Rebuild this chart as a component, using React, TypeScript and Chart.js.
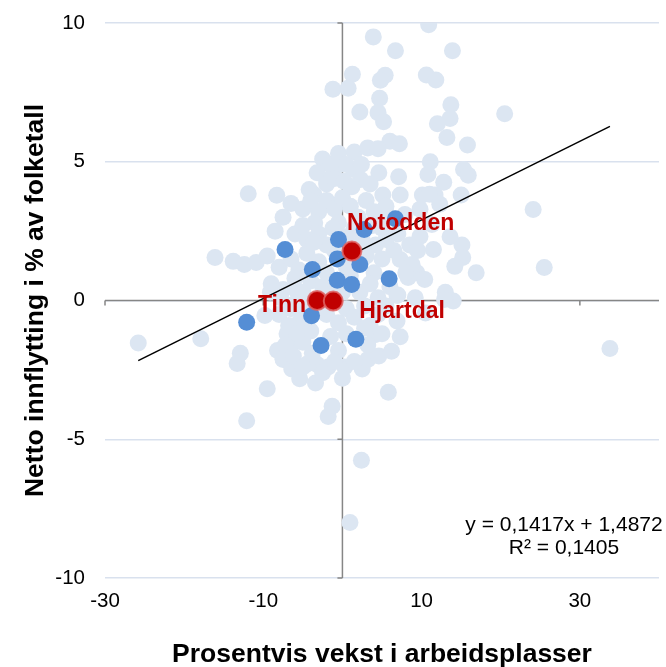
import React, { useEffect, useRef } from "react";
import { Chart, registerables } from "chart.js";

Chart.register(...registerables);

// ---- Data ----
const xTicks = [-30, -10, 10, 30];
const yTicks = [-10, -5, 0, 5, 10];
const slope = 0.1417;
const intercept = 1.4872;
const equationText = "y = 0,1417x + 1,4872";
const r2Text = "R² = 0,1405";
const xTitle = "Prosentvis vekst i arbeidsplasser";
const yTitle = "Netto innflytting i % av folketall";

// other municipalities (light)
const otherX = [
  10.9, 3.9, 6.7, 13.9, 1.26, -1.2, 0.72, 5.4, 4.8, 10.6, 11.8, 4.7, 2.2, 4.5, 5.2, 13.7, 13.6, 12.0, 13.2, 15.8,
  20.5, 6.0, 7.2, 1.5, 3.2, 4.5, -0.3, 1.4, -2.0, 2.3, 4.6, 7.1, 11.1, 10.8, 12.8, 15.3, 15.9, -11.9, -8.3, -3.6,
  5.1, 7.3, 10.1, 11.7, 15.0, -25.8, -17.9, -13.3, -9.5, -12.1, -1.3, -1.8, 5.8, 2.4, -9.8, -8.2, -7.5, -6.6, -7.5, -6.4,
  -5.4, -3.4, -3.2, -1.8, 0.3, 2.5, 3.2, 4.6, 6.2, 7.3, 4.1, -5.2, 9.2, 9.4, 13.0, 14.0, 10.5, 16.9, 6.9, 33.8,
  -16.1, -13.8, -12.4, -10.9, -9.1, 24.1, 25.5, 15.1, 15.2, 14.2, 12.9, 13.6, 11.5, 11.3, 9.8, 11.0, 12.3, 9.8, 7.9, 7.3,
  8.8, 10.4, 6.9, 8.3, 0.95, -12.9, -5.9,
  -2.5, -1.5, -0.5, 0.5, -3.2, -2, -1, 0.2, 1.2, 2.4, 3.5, -4.2,
  -6.5, -5, -4, -3, -2, -1, 0, 1, 2, 3, 4, 5.5, -7.5, -3.5, -0.5, 1.5, 3.8, 5, 6,
  -8.5, -6, -5, -4.5, -3, -2, -1.2, 0.5, 2.5, 4.2, 5.5, 7, 8.5,
  -9.5, -8, -6.5, -5.5, -4.5, -3, -2, -1, 0.5, 3, 4, 5, 6.5, 8, 9.5,
  -9, -7.5, -6, -5, -4, -2.5, -1.5, 0, 1, 2.2, 3.5, 4.5, 6, 7,
  -8, -6.5, -5.5, -4.5, -2, -0.5, 0.5, 1.5, 2.8, 3.5, 4.5, 5.5,
  -7, -5, -4, -1.5, -0.5, 0.5, 2.8, 3.2, 5,
  -4.5, -2.5, -1, 0, 1.5,
  -6.8, -5.8, -4.8, -7.2, -3.8, -6.2, -5.0, -4.0, -2.8, -7.8, -6.0, -3.6,
];
const otherY = [
  9.94, 9.5, 9.0, 9.0, 8.15, 7.61, 7.65, 8.12, 7.94, 8.13, 7.95, 7.29, 6.79, 6.77, 6.44, 7.05, 6.56, 6.37, 5.87, 5.6,
  6.73, 5.74, 5.65, 5.35, 5.5, 5.47, 4.9, 4.72, 4.36, 4.36, 4.6, 4.46, 5.0, 4.54, 4.26, 4.72, 4.51, 3.85, 3.79, 3.82,
  3.8, 3.8, 3.8, 3.8, 3.8, -1.53, -1.38, -2.27, -3.18, -4.33, -3.81, -4.18, -3.31, -5.76, -0.54, -1.8, -2.1, -1.71, -2.13, -2.47,
  -2.82, -2.97, -2.31, -2.4, -2.4, -2.47, -2.13, -2.0, -1.83, -1.31, -1.23, -0.93, 0.1, 1.0, 0.3, -0.02, -0.45, 1.0, -0.74, -1.73,
  1.55, 1.41, 1.3, 1.37, 0.3, 3.28, 1.19, 2.0, 1.55, 1.23, 0.04, 2.3, 1.84, 2.74, 2.31, 3.83, 3.47, 3.29, 3.1, 1.48,
  1.3, 0.76, 0.18, 0.83, -8.0, -1.9, 0.4,
  5.1, 4.9, 5.3, 4.9, 4.6, 4.2, 4.4, 4.3, 4.1, 4.9, 4.2, 4.0,
  3.5, 3.3, 3.6, 3.2, 3.6, 3.3, 3.7, 3.4, 3.0, 3.6, 3.2, 3.4, 3.0, 2.8, 2.8, 2.6, 2.7, 2.6, 3.0,
  2.5, 2.4, 2.7, 2.2, 2.4, 2.0, 2.6, 2.3, 2.2, 2.0, 2.2, 2.4, 2.0,
  1.6, 1.2, 1.5, 1.1, 1.7, 1.4, 1.0, 1.8, 1.2, 1.6, 1.0, 1.5, 1.8, 1.0, 1.8,
  0.6, 0.4, 0.8, 0.3, 0.7, 0.5, 0.2, 0.3, 0.9, 0.3, 0.6, 0.1, 0.5, 0.2,
  -0.5, -0.3, -0.8, -0.2, -0.5, -0.8, -0.3, -0.6, -0.2, -0.9, -0.5, -0.2,
  -1.2, -1.5, -1.1, -1.3, -1.8, -1.2, -1.0, -1.6, -1.2,
  -2.3, -2.6, -2.2, -2.8, -2.2,
  -0.9, -1.2, -0.6, -1.6, -1.9, -2.0, -2.4, -0.4, -0.3, 0.1, -0.1, 2.1,
];

// Telemark municipalities (blue)
const telemarkX = [-7.25, -0.5, -0.65, 2.2, -3.8, -0.65, 1.16, 5.9, 6.7, 2.75, -3.9, -12.1, -2.7, 1.7];
const telemarkY = [1.84, 2.2, 1.5, 1.3, 1.12, 0.73, 0.58, 0.78, 2.95, 2.56, -0.55, -0.78, -1.62, -1.4];

// highlighted municipalities (red)
const highlightNames = ["Notodden", "Tinn", "Hjartdal"];
const highlightX = [1.2, -3.2, -1.16];
const highlightY = [1.78, 0.0, -0.02];

const toPoints = (xs: number[], ys: number[]) => xs.map((x, i) => ({ x, y: ys[i] }));

const allX = [...otherX, ...telemarkX, ...highlightX];
const trendMinX = Math.min(...allX);
const trendMaxX = Math.max(...allX);

const FONT = "'Liberation Sans', Arial, sans-serif";

const overlayPlugin = {
  id: "overlay",
  beforeDatasetsDraw(chart: any) {
    const { ctx, scales } = chart;
    const xs = scales.x;
    const ys = scales.y;
    const x0 = xs.getPixelForValue(0);
    const y0 = ys.getPixelForValue(0);
    ctx.save();
    ctx.strokeStyle = "#868686";
    ctx.lineWidth = 1.5;
    ctx.beginPath();
    ctx.moveTo(xs.left, y0);
    ctx.lineTo(xs.right, y0);
    ctx.moveTo(x0, ys.top);
    ctx.lineTo(x0, ys.bottom);
    for (const v of xTicks) {
      const px = xs.getPixelForValue(v);
      ctx.moveTo(px, y0);
      ctx.lineTo(px, y0 + 5);
    }
    for (const v of yTicks) {
      const py = ys.getPixelForValue(v);
      ctx.moveTo(x0, py);
      ctx.lineTo(x0 - 5, py);
    }
    ctx.stroke();
    ctx.restore();
  },
  afterDatasetsDraw(chart: any) {
    const { ctx, scales, chartArea } = chart;
    const xs = scales.x;
    const ys = scales.y;
    ctx.save();
    ctx.fillStyle = "#C00000";
    ctx.font = `bold 23px ${FONT}`;
    ctx.textBaseline = "middle";
    const offs = [
      { dx: -5, dy: -27, align: "left" },
      { dx: -11, dy: 5, align: "right" },
      { dx: 26, dy: 11, align: "left" },
    ];
    highlightNames.forEach((name, i) => {
      const px = xs.getPixelForValue(highlightX[i]);
      const py = ys.getPixelForValue(highlightY[i]);
      ctx.textAlign = offs[i].align;
      ctx.fillText(name, px + offs[i].dx, py + offs[i].dy);
    });
    ctx.fillStyle = "#000000";
    ctx.font = `21px ${FONT}`;
    ctx.textAlign = "center";
    const cx = chartArea.right - 95;
    ctx.fillText(equationText, cx, chartArea.bottom - 53);
    ctx.fillText(r2Text, cx, chartArea.bottom - 30);
    ctx.restore();
  },
};

export default function App() {
  const ref = useRef<HTMLCanvasElement>(null);
  useEffect(() => {
    if (!ref.current) return;
    const chart = new Chart(ref.current, {
      type: "scatter",
      data: {
        datasets: [
          {
            label: "Highlight",
            data: toPoints(highlightX, highlightY),
            backgroundColor: "#C00000",
            borderColor: "rgba(222,100,100,0.85)",
            borderWidth: 2,
            pointRadius: 9.5,
            order: 0,
          },
          {
            type: "line",
            label: "Trend",
            data: [
              { x: trendMinX, y: slope * trendMinX + intercept },
              { x: trendMaxX, y: slope * trendMaxX + intercept },
            ],
            borderColor: "#000000",
            borderWidth: 1.5,
            pointRadius: 0,
            fill: false,
            order: 1,
          },
          {
            label: "Telemark",
            data: toPoints(telemarkX, telemarkY),
            backgroundColor: "#558ED5",
            borderWidth: 0,
            pointRadius: 8.5,
            order: 2,
          },
          {
            label: "Andre",
            data: toPoints(otherX, otherY),
            backgroundColor: "#DCE6F2",
            borderWidth: 0,
            pointRadius: 8.5,
            order: 3,
          },
        ],
      },
      options: {
        animation: false,
        responsive: false,
        layout: { autoPadding: false, padding: { top: 23, right: 7, left: 0, bottom: 0 } },
        plugins: { legend: { display: false }, tooltip: { enabled: false } },
        scales: {
          x: {
            type: "linear",
            min: -30,
            max: 40,
            afterBuildTicks: (s: any) => {
              s.ticks = xTicks.map((v) => ({ value: v }));
            },
            afterFit: (s: any) => {
              s.height = 89;
              s.paddingLeft = 0;
              s.paddingRight = 0;
            },
            grid: { display: false, drawTicks: false },
            border: { display: false },
            ticks: { padding: 11, color: "#000", font: { family: FONT, size: 20.5 } },
            title: {
              display: true,
              text: xTitle,
              color: "#000",
              font: { family: FONT, size: 26.5, weight: "bold" },
              padding: { top: 0, bottom: -3.5 },
            },
          },
          y: {
            type: "linear",
            min: -10,
            max: 10,
            afterBuildTicks: (s: any) => {
              s.ticks = yTicks.map((v) => ({ value: v }));
            },
            afterFit: (s: any) => {
              s.width = 105;
              s.paddingTop = 0;
              s.paddingBottom = 0;
            },
            grid: { color: "#D9E1EE", lineWidth: 1.5, drawTicks: false },
            border: { display: false },
            ticks: { padding: 20, color: "#000", font: { family: FONT, size: 20.5 } },
            title: {
              display: true,
              text: yTitle,
              color: "#000",
              font: { family: FONT, size: 26.5, weight: "bold" },
              padding: { top: 20, bottom: 0 },
            },
          },
        },
      },
      plugins: [overlayPlugin],
    } as any);
    return () => chart.destroy();
  }, []);
  return (
    <div style={{ position: "absolute", left: 0, top: 0, width: 666, height: 667, background: "#fff" }}>
      <canvas ref={ref} width={666} height={667} />
    </div>
  );
}
